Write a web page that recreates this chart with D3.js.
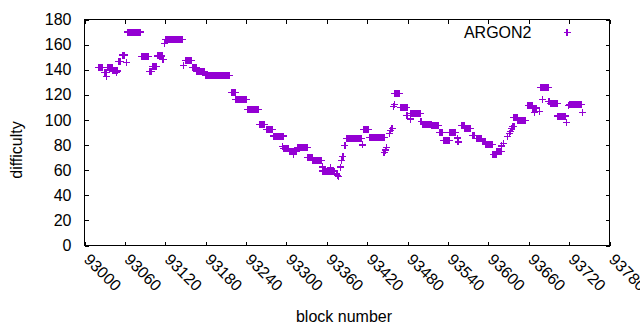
<!DOCTYPE html>
<html><head><meta charset="utf-8">
<script src="https://cdn.jsdelivr.net/npm/d3@7"></script>
<style>
body{margin:0;background:#fff}
svg{display:block}
text{font-family:"Liberation Sans",Arial,sans-serif;font-size:16px;fill:#000}
</style>
</head><body>
<svg id="c" width="640" height="330"></svg>
<script>
const seriesName = "ARGON2";
const xLabel = "block number";
const yLabel = "difficulty";
const xTicks = [93000, 93060, 93120, 93180, 93240, 93300, 93360, 93420, 93480, 93540, 93600, 93660, 93720, 93780];
const yTicks = [0, 20, 40, 60, 80, 100, 120, 140, 160, 180];

// runs of blocks sharing the same difficulty
const runFirstBlock = [93021,93030,93033,93035,93042,93047,93050,93057,93062,93064,93085,93096,93101,93109,93116,93119,93121,93147,93150,93161,93166,93180,93218,93224,93242,93260,93270,93281,93294,93296,93305,93310,93317,93332,93339,93354,93354,93365,93375,93376,93377,93380,93382,93384,93387,93389,93413,93414,93423,93445,93447,93449,93453,93455,93457,93459,93460,93461,93470,93479,93484,93484,93500,93503,93516,93527,93533,93543,93554,93555,93560,93565,93576,93582,93591,93596,93607,93613,93620,93622,93629,93631,93633,93635,93636,93638,93644,93659,93666,93668,93676,93677,93680,93690,93692,93703,93716,93719,93720,93740];
const runLastBlock  = [93027,93032,93033,93041,93049,93047,93054,93060,93062,93083,93095,93099,93107,93115,93117,93119,93146,93147,93159,93166,93178,93216,93224,93240,93259,93268,93279,93296,93294,93303,93315,93310,93331,93338,93352,93354,93372,93365,93375,93376,93377,93380,93382,93384,93387,93412,93413,93422,93446,93445,93447,93449,93453,93455,93457,93459,93460,93468,93479,93479,93484,93499,93500,93515,93526,93532,93542,93551,93554,93555,93565,93574,93580,93590,93595,93606,93612,93619,93620,93622,93629,93631,93633,93635,93638,93643,93655,93665,93671,93668,93676,93689,93680,93690,93702,93714,93716,93719,93738,93740];
const runDifficulty = [142,137.5,134.5,141.5,139,137.5,146.5,151.7,145.8,170,150.5,138.5,142.5,151,148,160.7,164,143.4,147.3,141.5,138.6,135.3,122,116.3,108.4,96.6,92.5,87.2,79.1,77.3,74.8,72.6,78.3,70.2,67.7,62.6,59.3,61.9,57,56,55,62.5,68,70.8,79.7,85.4,80.1,92.5,86.2,74,76,78,89.5,91.5,93.5,111,112.5,121,110,103.5,100.7,105.2,98.5,96.5,95.7,90.2,83.8,90.2,85.6,82.5,95.7,93.3,87.8,85.4,82.7,80.6,72.5,74.8,79.3,81.1,86.5,89,91,93,94.5,102,99.3,111.8,109.5,106,106.5,125.8,116.6,114.4,113.2,103.1,98.2,111.8,112.4,106.1];

const color = "#9400d3";
const svg = d3.select("#c");
const L = 84.5, R = 609.5, T = 19.5, B = 245.5;
const x = d3.scaleLinear().domain([93000, 93780]).range([L, R]);
const y = d3.scaleLinear().domain([0, 180]).range([B, T]);

// expand runs into points
const points = [];
runFirstBlock.forEach((f, i) => {
  for (let b = f; b <= runLastBlock[i]; b++) points.push({block: b, difficulty: runDifficulty[i]});
});

// axes (inward ticks, mirrored)
const gx = svg.append("g").attr("transform", `translate(0,${B})`)
  .call(d3.axisBottom(x).tickValues(xTicks).tickSize(-4).tickSizeOuter(0).tickFormat(d3.format("d")));
gx.selectAll("text").attr("x", 0).attr("y", 0).attr("dy", 0)
  .attr("text-anchor", "start")
  .attr("transform", "translate(-2,15) rotate(45)");
svg.append("g").attr("transform", `translate(0,${T})`)
  .call(d3.axisTop(x).tickValues(xTicks).tickSize(-4).tickSizeOuter(0).tickFormat(""));
svg.append("g").attr("transform", `translate(${L},0)`)
  .call(d3.axisLeft(y).tickValues(yTicks).tickSize(-4).tickSizeOuter(0).tickPadding(13));
svg.append("g").attr("transform", `translate(${R},0)`)
  .call(d3.axisRight(y).tickValues(yTicks).tickSize(-4).tickSizeOuter(0).tickFormat(""));
svg.selectAll(".domain").remove();
svg.selectAll(".tick line").attr("stroke", "#000").attr("shape-rendering", "crispEdges");
svg.selectAll(".tick text").style("font-family", '"Liberation Sans",Arial,sans-serif').style("font-size", "16px").attr("fill", "#000");

svg.append("rect").attr("x", L).attr("y", T).attr("width", R - L).attr("height", B - T)
  .attr("fill", "none").attr("stroke", "#000").attr("stroke-width", 1).attr("shape-rendering", "crispEdges");

// points as crosses
const s = 3.5;
const cross = (cx, cy) => `M${cx - s},${cy}H${cx + s}M${cx},${cy - s}V${cy + s}`;
svg.append("path")
  .attr("d", points.map(p => cross(x(p.block), y(p.difficulty))).join(""))
  .attr("fill", "none").attr("stroke", color).attr("stroke-width", 1.2).attr("shape-rendering", "crispEdges");

// legend
svg.append("text").attr("x", 531.5).attr("y", 37.5).attr("text-anchor", "end").text(seriesName);
svg.append("path").attr("d", cross(567, 32.5)).attr("stroke", color).attr("stroke-width", 1.2)
  .attr("fill", "none").attr("shape-rendering", "crispEdges");

// axis titles
svg.append("text").attr("x", 344).attr("y", 321.5).attr("text-anchor", "middle").text(xLabel);
svg.append("text").attr("transform", "translate(22,150) rotate(-90)").attr("text-anchor", "middle").text(yLabel);
</script>
</body></html>
